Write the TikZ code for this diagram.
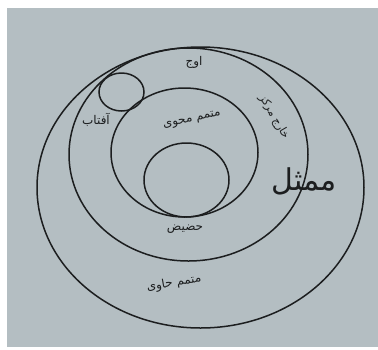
\documentclass[tikz,border=0pt]{standalone}
\usepackage{fontspec}
\newfontfamily\arabicfont[Script=Arabic]{DejaVu Sans}
\TeXXeTstate=1
\usepackage{tikz}
\usetikzlibrary{positioning}
\definecolor{paper}{HTML}{B4BEC2}
\definecolor{ink}{HTML}{1C1E1F}

\begin{document}
\begin{tikzpicture}[x=1pt, y=-1pt,
    orbit/.style={draw=ink, line width=1.5pt},
    lbl/.style={text=ink, inner sep=0pt, font=\arabicfont\fontsize{12}{14}\selectfont}]
    \useasboundingbox (0,0) rectangle (378,349);
    \fill[white] (0,0) rectangle (378,349);
    \fill[paper] (7,8) rectangle (378,347);

    % circles of the orb
    \coordinate (mumaththal) at (200.5,187.5);
    \coordinate (kharij) at (188.5,154.5);
    \coordinate (muhawi) at (184.5,152.5);
    \coordinate (inner) at (186.5,180);
    \coordinate (sun) at (121.5,92);

    \draw[orbit] (mumaththal) ellipse [x radius=163.5, y radius=140.5];
    \draw[orbit] (kharij) ellipse [x radius=119.5, y radius=106.5];
    \draw[orbit] (muhawi) ellipse [x radius=73.5, y radius=64.5];
    \draw[orbit] (inner) ellipse [x radius=42.5, y radius=37];
    \draw[orbit] (sun) ellipse [x radius=22.5, y radius=19];

    % labels
    \node[lbl] (awj) at (194,62) {\beginR اوج\endR};
    \node[lbl] (aftab) at (96,120) {\beginR آفتاب\endR};
    \node[lbl, rotate=12] (mutammimmuhawi) at (192,120) {\beginR متمم محوی\endR};
    \node[lbl, rotate=-60, font=\arabicfont\fontsize{11}{13}\selectfont] (kharijmarkaz) at (274,117) {\beginR خارج مرکز\endR};
    \node[lbl, font=\arabicfont\fontsize{30}{34}\selectfont] (mumaththallbl) at (304,181) {\beginR ممثل\endR};
    \node[lbl] (hadid) at (185,229) {\beginR حضیض\endR};
    \node[lbl, rotate=10] (mutammimhawi) at (174,283) {\beginR متمم حاوی\endR};
\end{tikzpicture}
\end{document}
